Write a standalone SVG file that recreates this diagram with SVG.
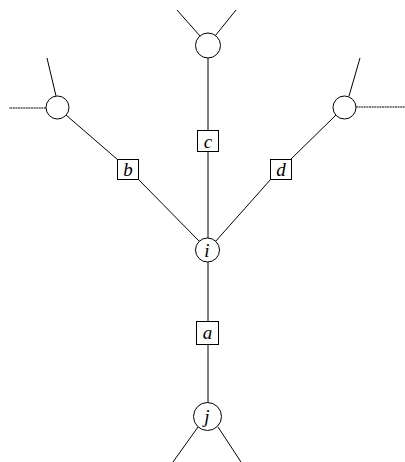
<svg xmlns="http://www.w3.org/2000/svg" width="405" height="462" viewBox="0 0 405 462">
<style>
.n{fill:#fff;stroke:#000;stroke-width:1}
.e{stroke:#000;stroke-width:1;fill:none}
.d{stroke:#000;stroke-width:1;fill:none;stroke-dasharray:2 0.6}
.t{font-family:"Liberation Serif",serif;font-style:italic;font-size:19px;text-anchor:middle;fill:#000}
</style>
<rect width="405" height="462" fill="#fff"/>
<g id="connectors">
<line class="e" x1="200" y1="36" x2="177" y2="10"/>
<line class="e" x1="215" y1="36" x2="236" y2="10"/>
<line class="e" x1="208" y1="58" x2="208" y2="130"/>
<line class="e" x1="208" y1="152" x2="208" y2="238"/>
<line class="e" x1="56" y1="96" x2="47" y2="58"/>
<line class="d" x1="46" y1="108" x2="9" y2="108"/>
<line class="e" x1="66" y1="115" x2="118" y2="160"/>
<line class="e" x1="138" y1="179" x2="200" y2="242"/>
<line class="e" x1="349" y1="96" x2="360" y2="58"/>
<line class="d" x1="356" y1="107" x2="405" y2="107"/>
<line class="e" x1="336" y1="115" x2="290" y2="160"/>
<line class="e" x1="271" y1="179" x2="215" y2="242"/>
<line class="e" x1="208" y1="262" x2="208" y2="321"/>
<line class="e" x1="208" y1="345" x2="208" y2="403"/>
<line class="e" x1="198" y1="427" x2="173" y2="462"/>
<line class="e" x1="218" y1="427" x2="241" y2="462"/>
</g>
<g id="top"><circle class="n" cx="208" cy="45.5" r="12.5"/></g>
<g id="left"><circle class="n" cx="57.5" cy="107.5" r="11.5"/></g>
<g id="right"><circle class="n" cx="344.5" cy="107.5" r="11.5"/></g>
<g id="c"><rect class="n" x="197.5" y="130.5" width="21" height="21"/><text class="t" x="208" y="147.5">c</text></g>
<g id="b"><rect class="n" x="117.5" y="159.5" width="21" height="20"/><text class="t" x="128" y="176">b</text></g>
<g id="d"><rect class="n" x="270.5" y="159.5" width="21" height="20"/><text class="t" x="281" y="176">d</text></g>
<g id="i"><circle class="n" cx="207.5" cy="250" r="12"/><text class="t" x="207" y="256.5">i</text></g>
<g id="a"><rect class="n" x="196.5" y="321.5" width="22" height="23"/><text class="t" x="207.5" y="339">a</text></g>
<g id="j"><circle class="n" cx="207.5" cy="416.5" r="14"/><text class="t" x="207" y="423">j</text></g>
</svg>
